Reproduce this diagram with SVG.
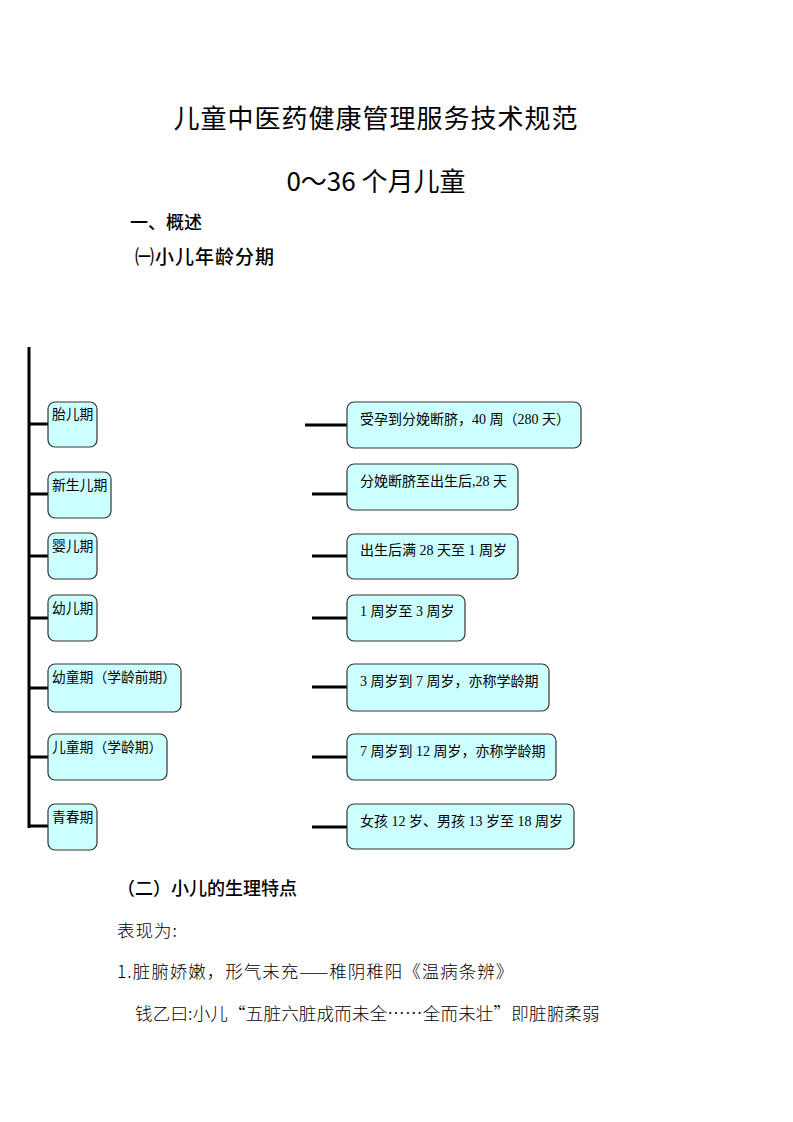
<svg xmlns="http://www.w3.org/2000/svg" width="793" height="1122" viewBox="0 0 793 1122">
<style>
.bg{fill:#ffffff}
.box{fill:#ccffff;stroke:#333333;stroke-width:1.2}
.conn{stroke:#000000;stroke-width:3;fill:none}
.h1{font-family:"Noto Sans CJK SC","Liberation Sans",sans-serif;font-size:26px;fill:#000}
.h2{font-family:"Noto Sans CJK SC","Liberation Sans",sans-serif;font-size:18px;font-weight:500;fill:#000}
.lt{font-family:"Noto Sans CJK SC","Liberation Sans",sans-serif;font-size:13.8px;fill:#000}
.rt{font-family:"Liberation Serif","Noto Sans CJK SC",serif;font-size:14px;fill:#000}
.body{font-family:"Noto Sans CJK SC","Liberation Sans",sans-serif;font-size:17.5px;font-weight:300;fill:#000;letter-spacing:1px}
</style>
<rect class="bg" x="0" y="0" width="793" height="1122"/>
<text class="h1" x="376" y="128" text-anchor="middle" letter-spacing="1">儿童中医药健康管理服务技术规范</text>
<text class="h1" x="376" y="191" text-anchor="middle">0～36 个月儿童</text>
<text class="h2" x="130" y="229">一、概述</text>
<text class="h2" x="135" y="264" style="font-size:19px;letter-spacing:1px">㈠小儿年龄分期</text>

<g id="connectors">
<line class="conn" x1="29" y1="347" x2="29" y2="828"/>
<line class="conn" x1="29" y1="424" x2="48" y2="424"/>
<line class="conn" x1="29" y1="494" x2="48" y2="494"/>
<line class="conn" x1="29" y1="556" x2="48" y2="556"/>
<line class="conn" x1="29" y1="618" x2="48" y2="618"/>
<line class="conn" x1="29" y1="688" x2="48" y2="688"/>
<line class="conn" x1="29" y1="757" x2="48" y2="757"/>
<line class="conn" x1="29" y1="826" x2="48" y2="826"/>
<line class="conn" x1="305" y1="425" x2="347" y2="425"/>
<line class="conn" x1="312" y1="494" x2="347" y2="494"/>
<line class="conn" x1="312" y1="556" x2="347" y2="556"/>
<line class="conn" x1="312" y1="618" x2="347" y2="618"/>
<line class="conn" x1="312" y1="687" x2="347" y2="687"/>
<line class="conn" x1="312" y1="757" x2="347" y2="757"/>
<line class="conn" x1="312" y1="827" x2="347" y2="827"/>
</g>

<g id="n-taier"><rect class="box" x="48" y="402" width="49" height="45" rx="7"/><text class="lt" x="52" y="419">胎儿期</text></g>
<g id="n-xinsheng"><rect class="box" x="48" y="472" width="63" height="46" rx="7"/><text class="lt" x="52" y="490">新生儿期</text></g>
<g id="n-ying"><rect class="box" x="48" y="533" width="49" height="46" rx="7"/><text class="lt" x="52" y="551">婴儿期</text></g>
<g id="n-you"><rect class="box" x="48" y="595" width="49" height="46" rx="7"/><text class="lt" x="52" y="613">幼儿期</text></g>
<g id="n-youtong"><rect class="box" x="48" y="664" width="133" height="48" rx="7"/><text class="lt" x="52" y="682">幼童期（学龄前期）</text></g>
<g id="n-ertong"><rect class="box" x="48" y="734" width="119" height="46" rx="7"/><text class="lt" x="52" y="752">儿童期（学龄期）</text></g>
<g id="n-qingchun"><rect class="box" x="48" y="804" width="49" height="46" rx="7"/><text class="lt" x="52" y="822">青春期</text></g>

<g id="d-taier"><rect class="box" x="347" y="402" width="234" height="46" rx="7"/><text class="rt" x="360" y="424">受孕到分娩断脐，40 周（280 天）</text></g>
<g id="d-xinsheng"><rect class="box" x="347" y="464" width="171" height="46" rx="7"/><text class="rt" x="360" y="486">分娩断脐至出生后,28 天</text></g>
<g id="d-ying"><rect class="box" x="347" y="534" width="171" height="45" rx="7"/><text class="rt" x="360" y="555">出生后满 28 天至 1 周岁</text></g>
<g id="d-you"><rect class="box" x="347" y="595" width="118" height="46" rx="7"/><text class="rt" x="360" y="616">1 周岁至 3 周岁</text></g>
<g id="d-youtong"><rect class="box" x="347" y="664" width="202" height="47" rx="7"/><text class="rt" x="360" y="686">3 周岁到 7 周岁，亦称学龄期</text></g>
<g id="d-ertong"><rect class="box" x="347" y="734" width="209" height="46" rx="7"/><text class="rt" x="360" y="756">7 周岁到 12 周岁，亦称学龄期</text></g>
<g id="d-qingchun"><rect class="box" x="347" y="804" width="227" height="45" rx="7"/><text class="rt" x="360" y="826">女孩 12 岁、男孩 13 岁至 18 周岁</text></g>

<text class="h2" x="117" y="895">（二）小儿的生理特点</text>
<text class="body" x="117" y="937">表现为:</text>
<text class="body" x="117" y="978">1.脏腑娇嫩，形气未充——稚阴稚阳《温病条辨》</text>
<text class="body" x="135" y="1020" style="letter-spacing:0.2px">钱乙曰:小儿“五脏六脏成而未全……全而未壮”即脏腑柔弱</text>
</svg>
